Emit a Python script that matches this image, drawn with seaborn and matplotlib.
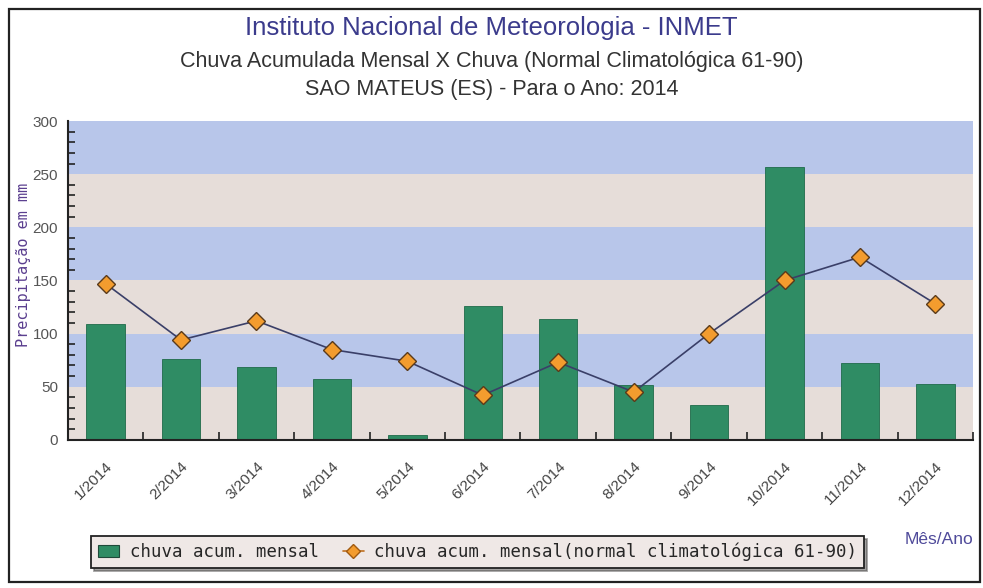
import numpy as np
import pandas as pd
import matplotlib.pyplot as plt
import seaborn as sns
from matplotlib.patches import Rectangle
from matplotlib.ticker import MultipleLocator, FixedLocator
from matplotlib.lines import Line2D
from matplotlib.patches import Patch

# dados
meses = ["1/2014", "2/2014", "3/2014", "4/2014", "5/2014", "6/2014",
         "7/2014", "8/2014", "9/2014", "10/2014", "11/2014", "12/2014"]
chuva_mensal = [109, 76, 69, 57, 5, 126, 114, 52, 33, 257, 72, 53]
chuva_normal = [147, 94, 112, 85, 74, 42, 73, 45, 100, 150, 172, 128]

df = pd.DataFrame({"mes": meses, "chuva": chuva_mensal, "normal": chuva_normal})

sns.set_style("white")
plt.rcParams["font.family"] = ["Liberation Sans", "DejaVu Sans"]

fig = plt.figure(figsize=(9.83, 5.88), dpi=100)
ax = fig.add_axes([0.069, 0.252, 0.921, 0.542])

# faixas de fundo alternadas
band_colors = ["#e6ddd9", "#b8c6ea"]
for i, y0 in enumerate(range(0, 300, 50)):
    ax.axhspan(y0, y0 + 50, color=band_colors[i % 2], zorder=0, lw=0)

sns.barplot(data=df, x="mes", y="chuva", color="#2f8c64", width=0.51,
            saturation=1, edgecolor="#1f6b4a", linewidth=0.6, ax=ax, zorder=2)
sns.pointplot(data=df, x="mes", y="normal", color="#3a3f68", markers="D",
              linestyles="-", linewidth=1.2, markersize=9,
              markerfacecolor="#f39c2e", markeredgecolor="#5a3a1a",
              markeredgewidth=1.0, ax=ax, zorder=3)

ax.set_xlim(-0.5, 11.5)
ax.set_ylim(0, 300)
ax.set_xlabel("")
ax.set_ylabel("Precipitação em mm", family="DejaVu Sans Mono", fontsize=11,
              color="#5b3f8f")
ax.yaxis.set_label_coords(-0.041, 0.55)

ax.yaxis.set_major_locator(MultipleLocator(50))
ax.yaxis.set_minor_locator(MultipleLocator(10))
ax.tick_params(axis="y", which="major", direction="in", length=6, width=1.2,
               color="#222222", labelsize=11, labelcolor="#555555", pad=7)
ax.tick_params(axis="y", which="minor", direction="in", length=5, width=1.2,
               color="#222222", left=True)

ax.xaxis.set_minor_locator(FixedLocator(np.arange(0.5, 12, 1)))
ax.tick_params(axis="x", which="major", length=0, labelsize=11,
               labelcolor="#444444", pad=14)
ax.tick_params(axis="x", which="minor", direction="in", length=6, width=1.2,
               color="#222222", bottom=True)
plt.setp(ax.get_xticklabels(), rotation=45, ha="right", va="top",
         rotation_mode="anchor")

for s in ["top", "right"]:
    ax.spines[s].set_visible(False)
for s in ["left", "bottom"]:
    ax.spines[s].set_color("#222222")
    ax.spines[s].set_linewidth(1.5)

# titulos
fig.text(0.5, 0.952, "Instituto Nacional de Meteorologia - INMET", ha="center",
         va="center", fontsize=18.5, color="#3b3b8c")
fig.text(0.5, 0.896, "Chuva Acumulada Mensal X Chuva (Normal Climatológica 61-90)",
         ha="center", va="center", fontsize=15.5, color="#333333")
fig.text(0.5, 0.847, "SAO MATEUS (ES) - Para o Ano: 2014", ha="center",
         va="center", fontsize=15.5, color="#333333")

# legenda
handles = [Patch(facecolor="#2f8c64", edgecolor="#1f4a3a", linewidth=0.8),
           Line2D([0], [0], color="#c07020", marker="D", markersize=7,
                  markerfacecolor="#f39c2e", markeredgecolor="#a05a10", lw=1.2)]
leg = fig.legend(handles, ["chuva acum. mensal",
                           "chuva acum. mensal(normal climatológica 61-90)"],
                 loc="center", bbox_to_anchor=(0.486, 0.061), ncol=2,
                 frameon=True, fancybox=False, shadow=True, handlelength=1.2,
                 handletextpad=0.6, columnspacing=1.4, borderpad=0.4,
                 prop={"family": "DejaVu Sans Mono", "size": 12.5})
leg.get_frame().set_facecolor("#efe8e6")
leg.get_frame().set_edgecolor("#222222")
leg.get_frame().set_linewidth(1.3)

fig.text(0.955, 0.082, "Mês/Ano", ha="center", va="center", fontsize=12.5,
         color="#4f4a9a")

# moldura externa
fig.patches.append(Rectangle((0.009, 0.01), 0.988, 0.975, transform=fig.transFigure,
                             fill=False, edgecolor="#222222", linewidth=1.6))

fig.savefig("out.png", dpi=100)
